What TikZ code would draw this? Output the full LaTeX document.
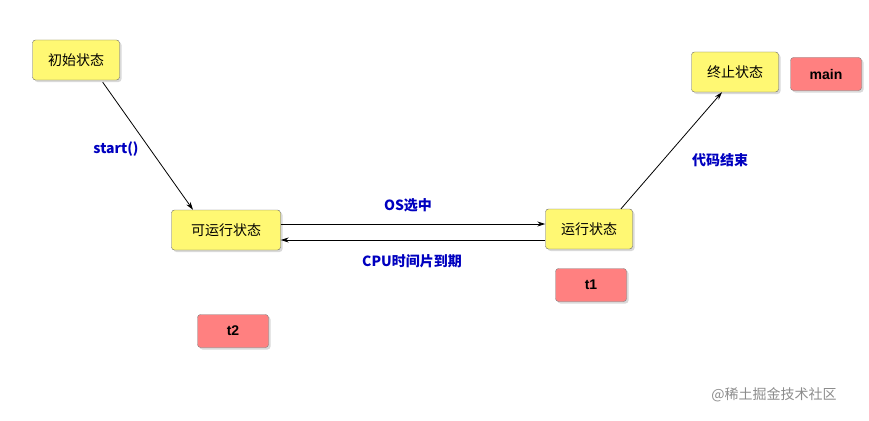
\documentclass[tikz,border=0pt]{standalone}
\usepackage{fontspec}
\setmainfont{Liberation Sans}
\newfontfamily\cjk{Noto Sans CJK SC}
\usetikzlibrary{shadows,arrows.meta}
\begin{document}
\begin{tikzpicture}[x=1pt,y=-1pt,
  state/.style={draw=black!60,fill=yellow!55,rounded corners=3pt,minimum width=87pt,minimum height=40pt,font=\cjk\fontsize{14}{14}\selectfont,drop shadow={shadow xshift=2pt,shadow yshift=-2pt,opacity=.3}},
  thr/.style={draw=black!50,fill=red!50,rounded corners=3pt,minimum width=71pt,minimum height=33pt,font=\bfseries\fontsize{14}{14}\selectfont,drop shadow={shadow xshift=2pt,shadow yshift=-2pt,opacity=.3}},
  lab/.style={text=blue!75!black,font=\cjk\bfseries\fontsize{14}{14}\selectfont},
  arr/.style={-{Stealth[length=8pt,width=5pt]},thick}]
\useasboundingbox (0,0) rectangle (869,420);
\node[state] (init) at (76,60) {初始状态};
\node[state,minimum width=109pt] (ready) at (226,230) {可运行状态};
\node[state] (run) at (589,229) {运行状态};
\node[state] (term) at (735,72) {终止状态};
\node[thr] (main) at (826,74) {main};
\node[thr] (t1) at (591,285) {t1};
\node[thr] (t2) at (233,331) {t2};
\draw[arr] ([xshift=-17pt,yshift=-2pt]init.south east) -- ([xshift=-33pt]ready.north) ;
\draw[arr] ([yshift=6pt]ready.east) -- ([yshift=5pt]run.west);
\draw[arr] ([yshift=-11pt]run.west) -- ([yshift=-10pt]ready.east);
\draw[arr] ([xshift=32pt]run.north) -- ([xshift=-13pt]term.south);
\node[lab] (l1) at (116,149) {start()};
\node[lab] (l2) at (408,205) {OS选中};
\node[lab] (l3) at (412,261) {CPU时间片到期};
\node[lab] (l4) at (720,160) {代码结束};
\node[text=black!45,font=\cjk\fontsize{14}{14}\selectfont] (wm) at (774,395) {@稀土掘金技术社区};
\end{tikzpicture}
\end{document}
